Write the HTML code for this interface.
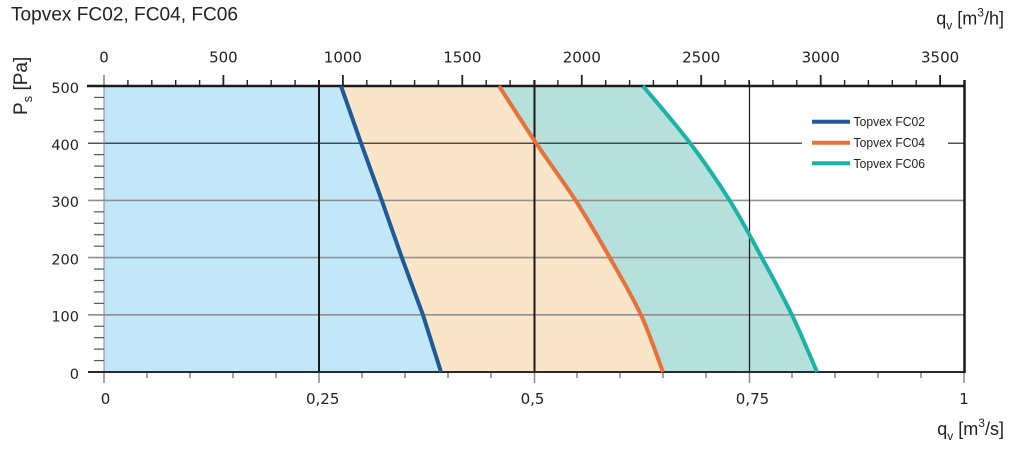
<!DOCTYPE html>
<html><head><meta charset="utf-8"><style>
html,body{margin:0;padding:0;background:#fff;}
svg{display:block;}
</style></head><body>
<svg width="1022" height="452" viewBox="0 0 1022 452" xmlns="http://www.w3.org/2000/svg">
<rect x="0" y="0" width="1022" height="452" fill="#fff"/>
<!-- fills -->
<path d="M104,86 L643,86 C650.8,95.5 675.5,123.8 690,143 C704.5,162.2 718,181.8 730,201 C742,220.2 751.7,239 762,258 C772.3,277 782.8,296 792,315 C801.2,334 812.8,362.5 817,372 L104,372 Z" fill="#b6e0dc"/>
<path d="M104,86 L499,86 C505.2,95.5 523.2,123.8 536,143 C548.8,162.2 563.7,181.8 576,201 C588.3,220.2 599.2,239 610,258 C620.8,277 632.2,296 641,315 C649.8,334 659.3,362.5 663,372 L104,372 Z" fill="#fbe5c9"/>
<path d="M104,86 L341,86 L361,143 L382,201 L402,258 L423,315 L441,372 L104,372 Z" fill="#c2e7f9"/>
<!-- horizontal grid -->
<g stroke="#8f8f8f" stroke-width="1.6">
<line x1="88" y1="200.4" x2="964" y2="200.4"/>
<line x1="88" y1="257.6" x2="964" y2="257.6"/>
<line x1="88" y1="314.8" x2="964" y2="314.8"/>
</g>
<line x1="88" y1="143.2" x2="964" y2="143.2" stroke="#1a1a1a" stroke-width="1.2"/>
<!-- vertical grid -->
<line x1="319" y1="80" x2="319" y2="372" stroke="#1a1a1a" stroke-width="2"/>
<line x1="534.5" y1="80" x2="534.5" y2="372" stroke="#1a1a1a" stroke-width="2"/>
<line x1="749.5" y1="80" x2="749.5" y2="372" stroke="#1a1a1a" stroke-width="1.2"/>
<!-- left axis -->
<line x1="104" y1="86" x2="104" y2="372" stroke="#888" stroke-width="1"/>
<g stroke="#555" stroke-width="1.2">
<line x1="94" y1="360.56" x2="104" y2="360.56"/><line x1="94" y1="349.12" x2="104" y2="349.12"/><line x1="94" y1="337.68" x2="104" y2="337.68"/><line x1="94" y1="326.24" x2="104" y2="326.24"/>
<line x1="94" y1="303.36" x2="104" y2="303.36"/><line x1="94" y1="291.92" x2="104" y2="291.92"/><line x1="94" y1="280.48" x2="104" y2="280.48"/><line x1="94" y1="269.04" x2="104" y2="269.04"/>
<line x1="94" y1="246.16" x2="104" y2="246.16"/><line x1="94" y1="234.72" x2="104" y2="234.72"/><line x1="94" y1="223.28" x2="104" y2="223.28"/><line x1="94" y1="211.84" x2="104" y2="211.84"/>
<line x1="94" y1="188.96" x2="104" y2="188.96"/><line x1="94" y1="177.52" x2="104" y2="177.52"/><line x1="94" y1="166.08" x2="104" y2="166.08"/><line x1="94" y1="154.64" x2="104" y2="154.64"/>
<line x1="94" y1="131.76" x2="104" y2="131.76"/><line x1="94" y1="120.32" x2="104" y2="120.32"/><line x1="94" y1="108.88" x2="104" y2="108.88"/><line x1="94" y1="97.44" x2="104" y2="97.44"/>
</g>
<!-- bottom ticks -->
<g stroke="#666" stroke-width="1.2">
<line x1="147" y1="372" x2="147" y2="378"/><line x1="190" y1="372" x2="190" y2="378"/><line x1="233" y1="372" x2="233" y2="378"/><line x1="276" y1="372" x2="276" y2="378"/>
<line x1="362" y1="372" x2="362" y2="378"/><line x1="405" y1="372" x2="405" y2="378"/><line x1="448" y1="372" x2="448" y2="378"/><line x1="491" y1="372" x2="491" y2="378"/>
<line x1="577" y1="372" x2="577" y2="378"/><line x1="620" y1="372" x2="620" y2="378"/><line x1="663" y1="372" x2="663" y2="378"/><line x1="706" y1="372" x2="706" y2="378"/>
<line x1="792" y1="372" x2="792" y2="378"/><line x1="835" y1="372" x2="835" y2="378"/><line x1="878" y1="372" x2="878" y2="378"/><line x1="921" y1="372" x2="921" y2="378"/>
</g>
<g stroke="#888" stroke-width="1.5">
<line x1="104" y1="372" x2="104" y2="383"/><line x1="319" y1="372" x2="319" y2="383"/><line x1="534.5" y1="372" x2="534.5" y2="383"/><line x1="749.5" y1="372" x2="749.5" y2="383"/><line x1="964" y1="372" x2="964" y2="383"/>
</g>
<!-- top ticks -->
<g stroke="#222" stroke-width="1.4">
<line x1="127.9" y1="80" x2="127.9" y2="86"/><line x1="151.8" y1="80" x2="151.8" y2="86"/><line x1="175.7" y1="80" x2="175.7" y2="86"/><line x1="199.6" y1="80" x2="199.6" y2="86"/>
<line x1="247.3" y1="80" x2="247.3" y2="86"/><line x1="271.2" y1="80" x2="271.2" y2="86"/><line x1="295.1" y1="80" x2="295.1" y2="86"/><line x1="319" y1="80" x2="319" y2="86"/>
<line x1="366.8" y1="80" x2="366.8" y2="86"/><line x1="390.7" y1="80" x2="390.7" y2="86"/><line x1="414.6" y1="80" x2="414.6" y2="86"/><line x1="438.4" y1="80" x2="438.4" y2="86"/>
<line x1="486.2" y1="80" x2="486.2" y2="86"/><line x1="510.1" y1="80" x2="510.1" y2="86"/><line x1="534" y1="80" x2="534" y2="86"/><line x1="557.9" y1="80" x2="557.9" y2="86"/>
<line x1="605.7" y1="80" x2="605.7" y2="86"/><line x1="629.6" y1="80" x2="629.6" y2="86"/><line x1="653.4" y1="80" x2="653.4" y2="86"/><line x1="677.3" y1="80" x2="677.3" y2="86"/>
<line x1="725.1" y1="80" x2="725.1" y2="86"/><line x1="749" y1="80" x2="749" y2="86"/><line x1="772.9" y1="80" x2="772.9" y2="86"/><line x1="796.8" y1="80" x2="796.8" y2="86"/>
<line x1="844.6" y1="80" x2="844.6" y2="86"/><line x1="868.4" y1="80" x2="868.4" y2="86"/><line x1="892.3" y1="80" x2="892.3" y2="86"/><line x1="916.2" y1="80" x2="916.2" y2="86"/>
</g>
<g stroke="#222" stroke-width="1.8">
<line x1="104" y1="75" x2="104" y2="86" stroke="#999"/><line x1="223.4" y1="75" x2="223.4" y2="86"/><line x1="342.9" y1="75" x2="342.9" y2="86"/><line x1="462.3" y1="75" x2="462.3" y2="86"/>
<line x1="581.8" y1="75" x2="581.8" y2="86"/><line x1="701.2" y1="75" x2="701.2" y2="86"/><line x1="820.7" y1="75" x2="820.7" y2="86"/><line x1="940.1" y1="75" x2="940.1" y2="86"/>
</g>
<!-- frame -->
<line x1="88" y1="372" x2="965" y2="372" stroke="#2a2a2a" stroke-width="2"/>
<line x1="87" y1="86" x2="965.5" y2="86" stroke="#1a1a1a" stroke-width="2.5"/>
<line x1="964.5" y1="80" x2="964.5" y2="373" stroke="#1a1a1a" stroke-width="2.5"/>
<!-- curves -->
<path d="M341,86 L361,143 L382,201 L402,258 L423,315 L441,372" fill="none" stroke="#1d5a96" stroke-width="4"/>
<path d="M499,86 C505.2,95.5 523.2,123.8 536,143 C548.8,162.2 563.7,181.8 576,201 C588.3,220.2 599.2,239 610,258 C620.8,277 632.2,296 641,315 C649.8,334 659.3,362.5 663,372" fill="none" stroke="#e8703a" stroke-width="4"/>
<path d="M643,86 C650.8,95.5 675.5,123.8 690,143 C704.5,162.2 718,181.8 730,201 C742,220.2 751.7,239 762,258 C772.3,277 782.8,296 792,315 C801.2,334 812.8,362.5 817,372" fill="none" stroke="#1cb3a7" stroke-width="4"/>
<!-- legend -->
<rect x="802" y="108" width="146" height="70" fill="#fff"/>
<line x1="812" y1="121.7" x2="850" y2="121.7" stroke="#1d5a96" stroke-width="4"/>
<line x1="812" y1="142.7" x2="850" y2="142.7" stroke="#e8703a" stroke-width="4"/>
<line x1="812" y1="163.3" x2="850" y2="163.3" stroke="#1cb3a7" stroke-width="4"/>
<g font-family="Liberation Sans, sans-serif" font-size="12.5" fill="#222">
<text x="853.5" y="126.2" textLength="71.5" lengthAdjust="spacingAndGlyphs">Topvex FC02</text>
<text x="853.5" y="147.2" textLength="71.5" lengthAdjust="spacingAndGlyphs">Topvex FC04</text>
<text x="853.5" y="167.8" textLength="71.5" lengthAdjust="spacingAndGlyphs">Topvex FC06</text>
</g>
<!-- title -->
<text x="11" y="20.5" font-family="Liberation Sans, sans-serif" font-size="19.5" fill="#222" textLength="227" lengthAdjust="spacingAndGlyphs">Topvex FC02, FC04, FC06</text>
<!-- top labels -->
<g font-family="DejaVu Sans, sans-serif" font-size="15" fill="#222" text-anchor="middle">
<text x="104" y="62.5">0</text><text x="223.4" y="62.5">500</text><text x="342.9" y="62.5">1000</text><text x="462.3" y="62.5">1500</text>
<text x="581.8" y="62.5">2000</text><text x="701.2" y="62.5">2500</text><text x="820.7" y="62.5">3000</text><text x="940.1" y="62.5">3500</text>
</g>
<!-- left labels -->
<g font-family="DejaVu Sans, sans-serif" font-size="14.5" fill="#222" text-anchor="end">
<text x="79" y="93">500</text><text x="79" y="150">400</text><text x="79" y="207.2">300</text>
<text x="79" y="264.4">200</text><text x="79" y="321.6">100</text><text x="79" y="378.8">0</text>
</g>
<!-- bottom labels -->
<g font-family="DejaVu Sans, sans-serif" font-size="15" fill="#222" text-anchor="middle">
<text x="105.5" y="404">0</text><text x="322.7" y="404">0,25</text><text x="532.5" y="404">0,5</text><text x="752.5" y="404">0,75</text><text x="964" y="404">1</text>
</g>
<!-- axis titles -->
<g font-family="Liberation Sans, sans-serif" fill="#222">
<text x="1004" y="24.5" text-anchor="end" font-size="18">q<tspan font-size="12" dy="5">v</tspan><tspan dy="-5"> [m</tspan><tspan font-size="12" dy="-8">3</tspan><tspan dy="8">/h]</tspan></text>
<text x="1004" y="435" text-anchor="end" font-size="18">q<tspan font-size="12" dy="5">v</tspan><tspan dy="-5"> [m</tspan><tspan font-size="12" dy="-8">3</tspan><tspan dy="8">/s]</tspan></text>
<text transform="translate(27,115) rotate(-90)" font-size="19">P<tspan font-size="13" dy="5">s</tspan><tspan dy="-5"> [Pa]</tspan></text>
</g>
</svg>
</body></html>
